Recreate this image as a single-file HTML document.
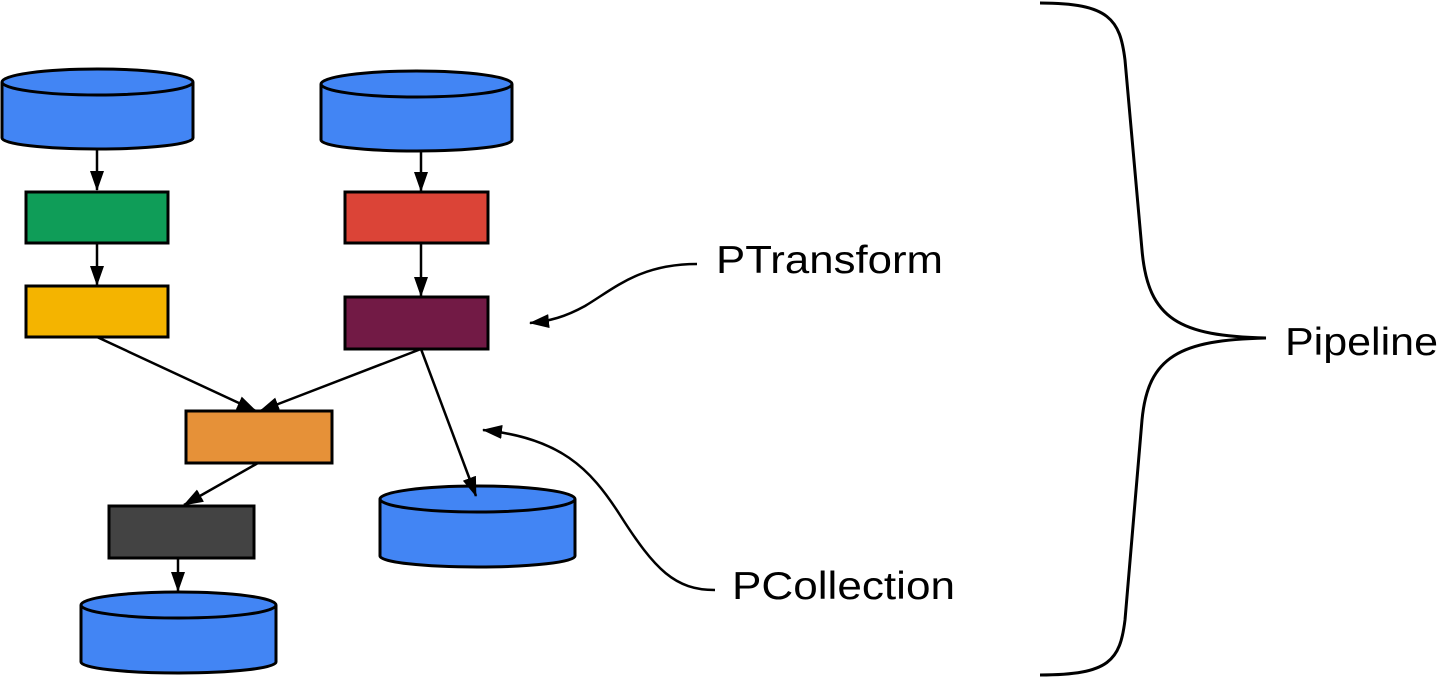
<!DOCTYPE html>
<html><head><meta charset="utf-8"><style>html,body{margin:0;padding:0;background:#fff}svg{display:block}</style></head>
<body>
<svg width="1440" height="678" viewBox="0 0 1440 678" xmlns="http://www.w3.org/2000/svg">
<defs>
<marker id="a" markerWidth="10" markerHeight="10" refX="9" refY="5" orient="auto" markerUnits="userSpaceOnUse" viewBox="0 0 10 10">
<path d="M0,0 L10,5 L0,10 Z" fill="#000"/>
</marker>
<marker id="b" markerWidth="20" markerHeight="14" refX="19" refY="7" orient="auto" markerUnits="userSpaceOnUse" viewBox="0 0 20 14">
<path d="M0,0 L20,7 L0,14 Z" fill="#000"/>
</marker>
</defs>
<g stroke="#000" stroke-width="3">
<!-- cylinders -->
<g fill="#4285f4">
<path d="M2,82 L2,138 A95.5,11 0 0 0 193,138 L193,82"/>
<ellipse cx="97.5" cy="82" rx="95.5" ry="13"/>
<path d="M321,84 L321,140 A95.5,11 0 0 0 512,140 L512,84"/>
<ellipse cx="416.5" cy="84" rx="95.5" ry="13"/>
<path d="M380,499 L380,556 A97.5,11 0 0 0 575,556 L575,499"/>
<ellipse cx="477.5" cy="499" rx="97.5" ry="13"/>
<path d="M81,605 L81,662 A97.5,11 0 0 0 276,662 L276,605"/>
<ellipse cx="178.5" cy="605" rx="97.5" ry="13"/>
</g>
<rect x="26" y="192" width="142" height="51" fill="#0f9d58"/>
<rect x="26" y="286" width="142" height="51" fill="#f4b400"/>
<rect x="345" y="192" width="143" height="51" fill="#db4437"/>
<rect x="345" y="297" width="143" height="52" fill="#721a45"/>
<rect x="186" y="411" width="146" height="52" fill="#e69138"/>
<rect x="109" y="506" width="145" height="52" fill="#434343"/>
</g>
<g stroke="#000" stroke-width="2.5" fill="none" marker-end="url(#b)">
<line x1="97" y1="149" x2="97" y2="190"/>
<line x1="97" y1="243" x2="97" y2="285"/>
<line x1="421" y1="152" x2="421" y2="191"/>
<line x1="421" y1="243" x2="421" y2="296"/>
<line x1="97" y1="337" x2="256" y2="411"/>
<line x1="421" y1="349" x2="260" y2="411"/>
<line x1="421" y1="349" x2="476" y2="496"/>
<line x1="258" y1="463" x2="184" y2="505"/>
<line x1="178" y1="558" x2="178" y2="591"/>
<path d="M697,264 C640,264 615,288 585,306 C565,317 550,321 530,323"/>
<path d="M715,590 C675,590 655,570 620,515 C590,468 560,438 483,430"/>
</g>
<path d="M1040,3 C1110,3 1120,20 1125,60 L1142,250 C1148,320 1180,336 1266,338 C1180,340 1148,356 1142,420 L1125,620 C1120,660 1110,675 1040,675" stroke="#000" stroke-width="3" fill="none"/>
<g font-family="Liberation Sans, Arial, sans-serif" font-size="39" fill="#000">
<text x="716" y="273" textLength="227" lengthAdjust="spacingAndGlyphs">PTransform</text>
<text x="732" y="599" textLength="223" lengthAdjust="spacingAndGlyphs">PCollection</text>
<text x="1285" y="355" textLength="153" lengthAdjust="spacingAndGlyphs">Pipeline</text>
</g>
</svg>
</body></html>
